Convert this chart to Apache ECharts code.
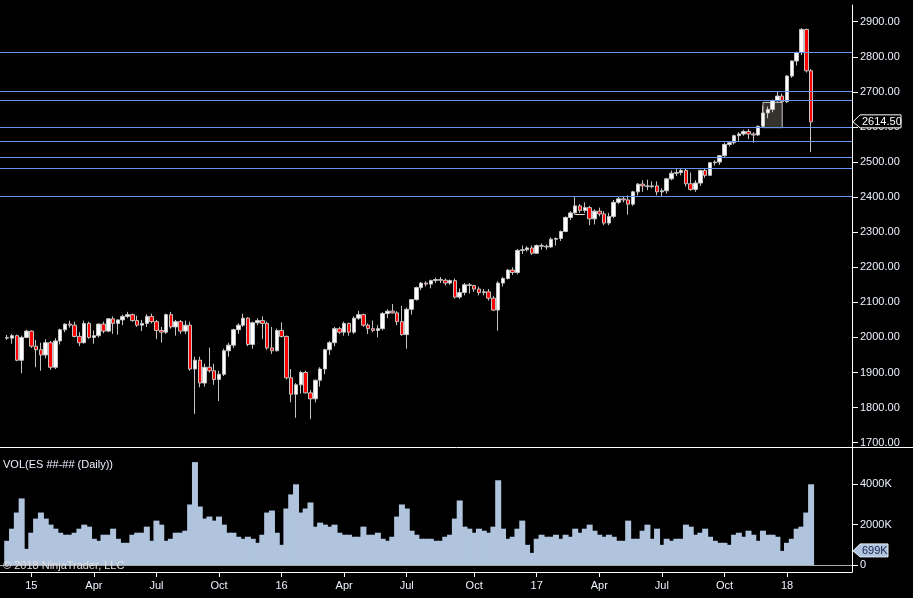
<!DOCTYPE html>
<html>
<head>
<meta charset="utf-8">
<title>ES weekly</title>
<style>
  html, body { margin: 0; padding: 0; background: #000; }
  #chart { width: 913px; height: 598px; }
</style>
<script src="https://cdn.jsdelivr.net/npm/echarts@6/dist/echarts.min.js"></script>
</head>
<body>
<div id="chart"></div>
<script>
// one empty week before the first bar, a few empty weeks after the last one
var firstWeek = '2014-11-17';
var leadWeeks = 1;
var trailWeeks = 8;

// weekly bars, first one = week of 2014-11-24 : [open, close, low, high]
var ohlc = [
  [2000,1998,1993,2007],[1998,2005,1982,2010],[2005,1935,1932,2008],[1935,2000,1898,2005],
  [2000,2018,1998,2022],[2018,1975,1970,2020],[1975,1965,1915,1993],[1965,1950,1905,1985],
  [1950,1985,1940,1995],[1985,1915,1908,1990],[1915,1990,1910,1998],[1990,2022,1980,2025],
  [2022,2038,2015,2040],[2038,2035,2028,2048],[2035,2003,2000,2045],[2003,1985,1975,2015],
  [1985,2040,1982,2048],[2040,2000,1996,2045],[2000,2005,1982,2020],[2005,2038,2000,2040],
  [2038,2018,2012,2045],[2018,2053,2015,2055],[2053,2040,2010,2060],[2040,2050,2008,2052],
  [2050,2060,2035,2065],[2060,2065,2055,2073],[2065,2048,2045,2068],[2048,2035,2030,2062],
  [2035,2040,2018,2050],[2040,2060,2030,2066],[2060,2045,2040,2068],[2045,2020,1995,2050],
  [2020,2015,1985,2030],[2015,2065,2010,2068],[2065,2030,2025,2073],[2030,2045,2005,2050],
  [2045,2018,2010,2050],[2018,2035,2010,2048],[2035,1910,1905,2045],[1910,1935,1782,1945],
  [1935,1870,1858,1945],[1870,1915,1860,1925],[1915,1905,1900,1971],[1905,1880,1865,1925],
  [1880,1895,1819,1905],[1895,1962,1890,1968],[1962,1978,1945,1985],[1978,2022,1970,2025],
  [2022,2035,2010,2040],[2035,2055,2030,2068],[2055,1980,1975,2058],[1980,2042,1968,2045],
  [2042,2048,2035,2055],[2048,2040,1995,2060],[2040,1970,1965,2045],[1970,1962,1953,2030],
  [1962,2020,1960,2025],[2020,2003,2000,2043],[2003,1885,1880,2005],[1885,1838,1815,1910],
  [1838,1865,1771,1870],[1865,1900,1840,1905],[1900,1842,1840,1905],[1842,1825,1767,1850],
  [1825,1878,1815,1880],[1878,1910,1860,1915],[1910,1965,1895,1968],[1965,1985,1950,1990],
  [1985,2025,1975,2030],[2025,2015,2010,2030],[2015,2040,2005,2045],[2040,2015,2005,2042],
  [2015,2055,2010,2060],[2055,2065,2050,2076],[2065,2035,2030,2068],[2035,2025,2010,2040],
  [2025,2020,2015,2048],[2020,2025,2000,2035],[2025,2068,2020,2072],[2068,2075,2055,2080],
  [2075,2070,2068,2095],[2070,2045,2035,2075],[2045,2008,2005,2090],[2008,2080,1968,2085],
  [2080,2108,2065,2110],[2108,2142,2105,2145],[2142,2155,2135,2158],[2155,2152,2145,2160],
  [2152,2162,2140,2165],[2162,2165,2155,2170],[2165,2163,2155,2172],[2163,2155,2148,2168],
  [2155,2162,2150,2165],[2162,2115,2111,2168],[2115,2128,2110,2140],[2128,2150,2120,2155],
  [2150,2148,2125,2155],[2148,2138,2130,2150],[2138,2128,2120,2145],[2128,2130,2120,2138],
  [2130,2112,2105,2138],[2112,2078,2075,2118],[2078,2155,2019,2160],[2155,2168,2145,2172],
  [2168,2192,2165,2195],[2192,2185,2178,2200],[2185,2248,2180,2252],[2248,2250,2238,2262],
  [2250,2255,2245,2260],[2255,2240,2235,2262],[2240,2262,2238,2265],[2262,2260,2250,2268],
  [2260,2258,2250,2265],[2258,2280,2255,2285],[2280,2282,2262,2285],[2282,2302,2275,2305],
  [2302,2342,2300,2345],[2342,2355,2335,2360],[2355,2375,2350,2400],[2375,2362,2355,2380],
  [2362,2370,2355,2385],[2370,2338,2320,2375],[2338,2360,2322,2365],[2360,2352,2345,2370],
  [2352,2326,2320,2360],[2326,2345,2320,2355],[2345,2385,2340,2392],[2385,2395,2380,2400],
  [2395,2392,2385,2403],[2392,2380,2350,2405],[2380,2415,2375,2418],[2415,2437,2405,2440],
  [2437,2432,2415,2448],[2432,2430,2420,2450],[2430,2432,2425,2445],[2432,2415,2405,2445],
  [2415,2418,2402,2425],[2418,2452,2410,2455],[2452,2468,2448,2476],[2468,2470,2460,2480],
  [2470,2476,2462,2482],[2476,2438,2430,2482],[2438,2422,2418,2470],[2422,2440,2415,2448],
  [2440,2476,2432,2478],[2476,2462,2455,2480],[2462,2498,2460,2500],[2498,2500,2490,2505],
  [2500,2518,2492,2520],[2518,2550,2515,2555],[2550,2555,2545,2560],[2555,2575,2550,2578],
  [2575,2580,2558,2585],[2580,2587,2575,2592],[2587,2580,2565,2594],[2580,2577,2555,2585],
  [2577,2602,2575,2604],[2602,2640,2598,2660],[2640,2650,2625,2658],[2650,2675,2642,2678],
  [2675,2688,2672,2700],[2688,2672,2668,2695],[2672,2745,2668,2748],[2745,2788,2740,2790],
  [2788,2812,2775,2815],[2812,2878,2805,2882],[2878,2760,2755,2880],[2760,2614.5,2528,2765]
];

// daily volume level of each week, in thousands
var volumeK = [
  1200,1800,2600,3300,800,1600,2300,2600,2300,2000,
  1800,1600,1500,1500,1600,1800,2000,1900,1300,1200,
  1500,1500,1800,1300,1100,1100,1500,1600,1600,1900,
  1200,2200,2000,1200,1300,1600,1600,1700,3000,5100,
  2900,2300,2400,2200,2400,2000,1600,1600,1400,1300,
  1400,1300,1100,1500,2600,2700,1600,1000,2800,3500,
  4000,2600,2800,3100,1900,2100,2000,1900,2000,1600,
  1500,1500,1400,1400,1900,1500,1500,1600,1300,1200,
  1400,2400,3000,2800,1700,1500,1300,1300,1300,1200,
  1200,1400,1500,2300,3200,1900,1800,1600,1800,1700,
  1600,1900,4200,1800,1300,1400,1800,2200,1000,600,
  1300,1500,1400,1400,1500,1300,1500,1400,1800,1600,
  1800,2000,1700,1500,1400,1500,1400,1200,1200,2200,
  1300,1300,1700,2000,1300,1800,1000,1300,1200,1300,
  1300,2000,1900,1500,1600,1800,1400,1200,1100,1100,
  1000,1500,1600,1400,1700,1500,1200,1700,1500,1500,
  1400,700,1100,1300,1800,1900,2600,4000
];

// drawn horizontal lines and objects
var levels = [2812.5, 2701, 2675.5, 2598, 2559, 2512.5, 2482, 2402];
var box = { from: 157, to: 161, low: 2598, high: 2670 };
var segment = { from: 118, to: 120, price: 2350 };

var priceTicks = [1700, 1800, 1900, 2000, 2100, 2200, 2300, 2400, 2500, 2600, 2700, 2800, 2900];
var volumeTicks = [0, 2000, 4000];
var monthNames = { 3: 'Apr', 6: 'Jul', 9: 'Oct' };
var lastClose = 2614.50;
var lastVolume = 699;

var font = '"Liberation Sans", Arial, sans-serif';
var textColor = '#eef2ff';
var DAY = 86400000;

// weekly categories
var categories = [];
var start = new Date(firstWeek + 'T00:00:00Z').getTime();
var total = leadWeeks + ohlc.length + trailWeeks;
for (var i = 0; i < total; i++) {
  categories.push(new Date(start + i * 7 * DAY).toISOString().slice(0, 10));
}

var priceData = [], volumeData = [];
for (var i = 0; i < total; i++) {
  var k = i - leadWeeks;
  if (k >= 0 && k < ohlc.length) {
    priceData.push(ohlc[k]);
    volumeData.push(volumeK[k]);
  } else {
    priceData.push('-');
    volumeData.push('-');
  }
}

function cat(k) { return categories[k + leadWeeks]; }

// week that holds the first weekday of a quarter
function quarterStart(index) {
  if (index < leadWeeks || index >= leadWeeks + ohlc.length) return null;
  var mon = new Date(categories[index] + 'T00:00:00Z').getTime();
  for (var j = 0; j < 5; j++) {
    var t = new Date(mon + j * DAY);
    var m = t.getUTCMonth();
    if (m % 3 !== 0) continue;
    var f = new Date(Date.UTC(t.getUTCFullYear(), m, 1));
    while (f.getUTCDay() === 0 || f.getUTCDay() === 6) f = new Date(f.getTime() + DAY);
    if (f.getTime() === t.getTime()) return t;
  }
  return null;
}
function showTick(index) { return quarterStart(index) !== null; }
function tickText(value, index) {
  var t = quarterStart(index);
  if (!t) return '';
  var m = t.getUTCMonth();
  return m === 0 ? String(t.getUTCFullYear()).slice(2) : monthNames[m];
}

var chart = echarts.init(document.getElementById('chart'));

var option = {
  backgroundColor: '#000',
  animation: false,
  grid: [
    { left: 0, top: 5, width: 852, height: 442 },
    { left: 0, top: 447, width: 852, height: 125 }
  ],
  xAxis: [
    {
      type: 'category', gridIndex: 0, data: categories, boundaryGap: true,
      axisLine: { show: false }, axisTick: { show: false }, axisLabel: { show: false },
      splitLine: { show: false }
    },
    {
      type: 'category', gridIndex: 1, data: categories, boundaryGap: true,
      axisLine: { show: true, onZero: false, lineStyle: { color: '#ffffff', width: 1 } },
      axisTick: { show: true, interval: showTick, alignWithLabel: true, length: 5,
                  lineStyle: { color: '#ffffff' } },
      axisLabel: { interval: showTick, formatter: tickText, color: textColor,
                   fontSize: 11, fontFamily: font, margin: 8 },
      splitLine: { show: false }
    }
  ],
  yAxis: [
    {
      type: 'value', gridIndex: 0, position: 'right', min: 1687.7, max: 2947.6,
      axisLine: { show: true, lineStyle: { color: '#ffffff', width: 1 } },
      axisTick: { show: true, length: 6, customValues: priceTicks, lineStyle: { color: '#ffffff' } },
      axisLabel: { customValues: priceTicks, margin: 8, color: textColor, fontSize: 11, fontFamily: font,
                   formatter: function (v) { return v.toFixed(2); } },
      splitLine: { show: false }
    },
    {
      type: 'value', gridIndex: 1, position: 'right', min: -347, max: 5849,
      axisLine: { show: true, lineStyle: { color: '#ffffff', width: 1 } },
      axisTick: { show: true, length: 6, customValues: volumeTicks, lineStyle: { color: '#ffffff' } },
      axisLabel: { customValues: volumeTicks, margin: 8, color: textColor, fontSize: 11, fontFamily: font,
                   formatter: function (v) { return v === 0 ? '0' : v + 'K'; } },
      splitLine: { show: false }
    }
  ],
  series: [
    {
      name: 'ES', type: 'candlestick', xAxisIndex: 0, yAxisIndex: 0,
      data: priceData, barWidth: 4,
      itemStyle: {
        color: '#ffffff', color0: '#ff0000',
        borderColor: '#c4c4c4', borderColor0: '#c4c4c4', borderWidth: 1
      },
      markArea: {
        silent: true,
        itemStyle: { color: '#35322e', borderColor: '#c8c8c8', borderWidth: 1 },
        data: [[
          { xAxis: cat(box.from), yAxis: box.high },
          { xAxis: cat(box.to), yAxis: box.low }
        ]]
      },
      markLine: {
        silent: true, symbol: ['none', 'none'], label: { show: false },
        data: levels.map(function (v) {
          return { yAxis: v, lineStyle: { color: '#6495ed', width: 1, type: 'solid' } };
        }).concat([[
          { coord: [cat(segment.from), segment.price],
            lineStyle: { color: '#f0dcc0', width: 1, type: 'solid' } },
          { coord: [cat(segment.to), segment.price] }
        ]])
      }
    },
    {
      name: 'VOL', type: 'bar', xAxisIndex: 1, yAxisIndex: 1,
      data: volumeData, barWidth: 6,
      itemStyle: { color: '#b0c4de' },
      markLine: {
        silent: true, symbol: ['none', 'none'], label: { show: false },
        data: [{ yAxis: 0, lineStyle: { color: '#a8a8a8', width: 1, type: 'solid' } }]
      }
    }
  ]
};

chart.setOption(option);

// labels and tags placed through the axes' own scales
var py = chart.convertToPixel({ yAxisIndex: 0 }, lastClose);
var vy = chart.convertToPixel({ yAxisIndex: 1 }, lastVolume);

chart.setOption({
  graphic: [
    { type: 'line', z: 50, shape: { x1: 0, y1: 447.5, x2: 913, y2: 447.5 },
      style: { stroke: '#ffffff', lineWidth: 1 } },
    { type: 'text', z: 50, x: 3, y: 459,
      style: { text: 'VOL(ES ##-## (Daily))', fill: textColor, font: '11px ' + font } },
    { type: 'text', z: 50, x: 3, y: 560,
      style: { text: '\u00a9 2018 NinjaTrader, LLC', fill: '#e0e0e0', font: '11px ' + font } },
    { type: 'polygon', z: 60,
      shape: { points: [[853, py], [860, py - 7], [901, py - 7], [901, py + 6], [860, py + 6]] },
      style: { fill: '#000000', stroke: '#ffffff', lineWidth: 1 } },
    { type: 'text', z: 61, x: 862, y: py,
      style: { text: lastClose.toFixed(2), fill: '#ffffff', font: '11px ' + font, verticalAlign: 'middle' } },
    { type: 'polygon', z: 60,
      shape: { points: [[853, vy], [860, vy - 7], [888, vy - 7], [888, vy + 6], [860, vy + 6]] },
      style: { fill: '#b0c4de', stroke: '#dfe7f2', lineWidth: 1 } },
    { type: 'text', z: 61, x: 862, y: vy,
      style: { text: lastVolume + 'K', fill: '#13234d', font: '11px ' + font, verticalAlign: 'middle' } }
  ]
});

window.addEventListener('resize', function () { chart.resize(); });
</script>
</body>
</html>
